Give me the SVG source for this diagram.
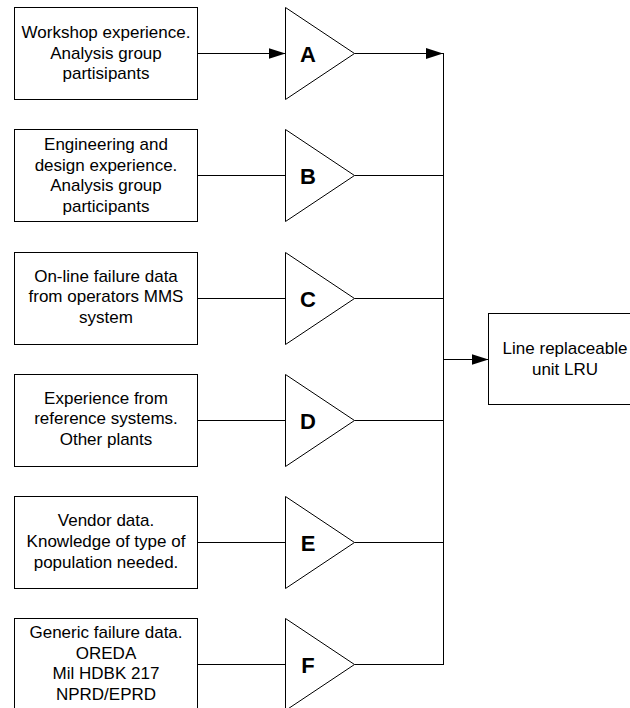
<svg xmlns="http://www.w3.org/2000/svg" width="630" height="708" viewBox="0 0 630 708">
<defs>
<style>
.box{fill:#fff;stroke:#000;stroke-width:1}
.tri{fill:#fff;stroke:#000;stroke-width:1;stroke-linejoin:miter}
.t{font-family:"Liberation Sans",Arial,sans-serif;font-size:17px;text-anchor:middle;fill:#000}
.L{font-family:"Liberation Sans",Arial,sans-serif;font-size:22px;font-weight:bold;text-anchor:middle;fill:#000}
.c{fill:none;stroke:#000;stroke-width:1}
</style>
<marker id="ah" viewBox="0 0 17 11" refX="17" refY="5.5" markerWidth="17" markerHeight="11" markerUnits="userSpaceOnUse" orient="auto">
<path d="M0,0 L17,5.5 L0,11 Z" fill="#000"/>
</marker>
</defs>
<rect width="630" height="708" fill="#fff"/>
<g id="connectors">
<line class="c" x1="197.5" y1="53.5" x2="285.5" y2="53.5" marker-end="url(#ah)"/>
<line class="c" x1="354.5" y1="53.5" x2="443" y2="53.5" marker-end="url(#ah)"/>
<line class="c" x1="197.5" y1="175.5" x2="285.5" y2="175.5"/>
<line class="c" x1="354.5" y1="175.5" x2="443.5" y2="175.5"/>
<line class="c" x1="197.5" y1="298.5" x2="285.5" y2="298.5"/>
<line class="c" x1="354.5" y1="298.5" x2="443.5" y2="298.5"/>
<line class="c" x1="197.5" y1="420.5" x2="285.5" y2="420.5"/>
<line class="c" x1="354.5" y1="420.5" x2="443.5" y2="420.5"/>
<line class="c" x1="197.5" y1="542.5" x2="285.5" y2="542.5"/>
<line class="c" x1="354.5" y1="542.5" x2="443.5" y2="542.5"/>
<line class="c" x1="197.5" y1="664.5" x2="285.5" y2="664.5"/>
<line class="c" x1="354.5" y1="664.5" x2="443.5" y2="664.5"/>
<line class="c" x1="443.5" y1="53" x2="443.5" y2="665"/>
<line class="c" x1="443.5" y1="359.5" x2="488.5" y2="359.5" marker-end="url(#ah)"/>
</g>
<g id="boxA">
<rect class="box" x="14.5" y="7.5" width="183" height="92"/>
<text class="t" x="106" y="38">Workshop experience.</text>
<text class="t" x="106" y="58.5">Analysis group</text>
<text class="t" x="106" y="79">partisipants</text>
</g>
<g id="triA"><polygon class="tri" points="285.5,7.5 285.5,99.5 354.5,53.5"/><text class="L" x="308" y="61.5">A</text></g>
<g id="boxB">
<rect class="box" x="14.5" y="129.5" width="183" height="92"/>
<text class="t" x="106" y="150">Engineering and</text>
<text class="t" x="106" y="170.5">design experience.</text>
<text class="t" x="106" y="191">Analysis group</text>
<text class="t" x="106" y="211.5">participants</text>
</g>
<g id="triB"><polygon class="tri" points="285.5,129.5 285.5,221.5 354.5,175.5"/><text class="L" x="308" y="183.5">B</text></g>
<g id="boxC">
<rect class="box" x="14.5" y="252.5" width="183" height="92"/>
<text class="t" x="106" y="281.5">On-line failure data</text>
<text class="t" x="106" y="302">from operators MMS</text>
<text class="t" x="106" y="322.5">system</text>
</g>
<g id="triC"><polygon class="tri" points="285.5,252.5 285.5,344.5 354.5,298.5"/><text class="L" x="308" y="306.5">C</text></g>
<g id="boxD">
<rect class="box" x="14.5" y="374.5" width="183" height="92"/>
<text class="t" x="106" y="403.5">Experience from</text>
<text class="t" x="106" y="424">reference systems.</text>
<text class="t" x="106" y="444.5">Other plants</text>
</g>
<g id="triD"><polygon class="tri" points="285.5,374.5 285.5,466.5 354.5,420.5"/><text class="L" x="308" y="428.5">D</text></g>
<g id="boxE">
<rect class="box" x="14.5" y="496.5" width="183" height="92"/>
<text class="t" x="106" y="526">Vendor data.</text>
<text class="t" x="106" y="547">Knowledge of type of</text>
<text class="t" x="106" y="567.5">population needed.</text>
</g>
<g id="triE"><polygon class="tri" points="285.5,496.5 285.5,588.5 354.5,542.5"/><text class="L" x="308" y="550.5">E</text></g>
<g id="boxF">
<rect class="box" x="14.5" y="618.5" width="183" height="92"/>
<text class="t" x="106" y="637.5">Generic failure data.</text>
<text class="t" x="106" y="658.5">OREDA</text>
<text class="t" x="106" y="679">Mil HDBK 217</text>
<text class="t" x="106" y="699.5">NPRD/EPRD</text>
</g>
<g id="triF"><polygon class="tri" points="285.5,618.5 285.5,710.5 354.5,664.5"/><text class="L" x="308" y="672.5">F</text></g>
<g id="lru">
<rect class="box" x="488.5" y="313.5" width="160" height="91"/>
<text class="t" x="565" y="354">Line replaceable</text>
<text class="t" x="565" y="374.5">unit LRU</text>
</g>
</svg>
